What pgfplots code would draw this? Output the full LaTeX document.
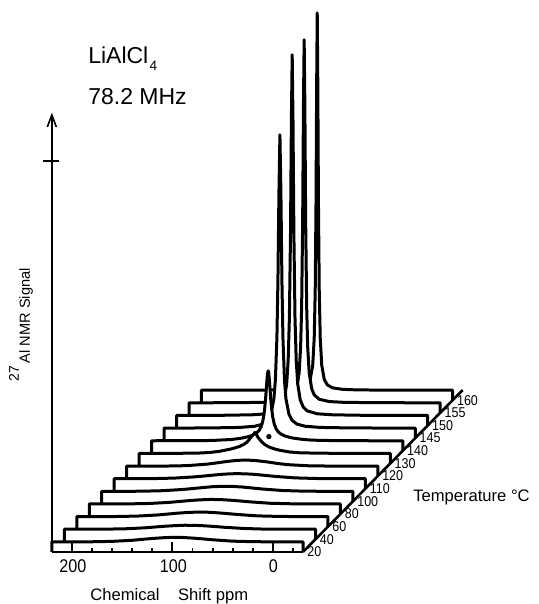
\documentclass[border=0pt]{standalone}
\usepackage{fontspec}
\setmainfont{Liberation Sans}
\newfontfamily\narrowfont{Liberation Sans}[FakeStretch=0.88]
\usepackage{pgfplots}
\pgfplotsset{compat=1.18}
\usepackage{pgfplotstable}

% one table per temperature: p = chemical shift (ppm), s = signal above the trace baseline
% 20 C
\pgfplotstableread{
p s
220 -10
220 0
200 0
180 0.1
160 0.5
140 1.6
130 2.5
120 3.4
110 4.1
100 4.5
90 4.4
80 3.8
70 3.0
60 2.1
40 0.7
20 0.2
0 0
-30 0
-30 -10
}\Ta
% 40 C
\pgfplotstableread{
p s
220 -12
220 0
200 0
180 0.1
160 0.4
140 1.4
130 2.2
120 3.0
110 3.6
100 4.0
90 3.9
80 3.4
70 2.7
60 1.9
40 0.7
20 0.1
0 0
-30 0
-30 -10
}\Tb
% 60 C
\pgfplotstableread{
p s
220 -12
220 0
200 0
180 0.1
160 0.5
140 1.6
130 2.5
120 3.4
110 4.1
100 4.5
90 4.4
80 3.8
70 3.0
60 2.1
40 0.7
20 0.2
0 0
-30 0
-30 -10
}\Tc
% 80 C
\pgfplotstableread{
p s
220 -12
220 0
200 0
180 0.1
160 0.5
140 1.6
130 2.5
120 3.4
110 4.1
100 4.5
90 4.4
80 3.8
70 3.0
60 2.1
40 0.7
20 0.2
0 0
-30 0
-30 -10
}\Td
% 100 C
\pgfplotstableread{
p s
220 -12
220 0
200 0
180 0.1
160 0.6
140 1.8
130 2.7
120 3.7
110 4.6
100 5.0
90 4.9
80 4.3
70 3.3
60 2.3
40 0.8
20 0.2
0 0
-30 0
-30 -10
}\Te
% 110 C
\pgfplotstableread{
p s
220 -12
220 0
200 0
180 0.1
160 0.6
140 1.8
130 2.7
120 3.7
110 4.6
100 5.0
90 4.9
80 4.3
70 3.3
60 2.3
40 0.8
20 0.2
0 0
-30 0
-30 -10
}\Tf
% 120 C
\pgfplotstableread{
p s
220 -12
220 0
200 0
180 0
160 0.4
140 1.9
130 3.2
120 4.6
110 5.7
100 6.0
90 5.3
80 4.1
70 2.6
60 1.4
40 0.3
20 0
0 0
-30 0
-30 -10
}\Tg
% 130 C
\pgfplotstableread{
p s
220 -12
220 0
200 0.1
180 0.1
160 0.4
150 0.9
140 2.1
130 4.1
125 5.4
120 7.0
116 8.9
113 11.0
111 13.2
109 15.8
107.5 17.6
106 19.0
104.8 21.0
103.5 19.5
102 16.5
100 14.0
98 11.6
96 9.6
93 7.6
90 6.1
85 4.4
80 3.1
70 1.4
60 0.6
40 0.2
20 0.1
0 0
-30 0
-30 -10
}\Th
% 140 C
\pgfplotstableread{
p s
220 -12
220 0
200 0.1
180 0.1
160 0.3
140 1.3
130 2.7
125 3.8
120 5.3
116 7.3
113 10.3
111 14.1
109.5 19.0
108.5 24.2
107.5 31.9
106.5 42.9
105.8 52.5
105.2 60.9
104.6 67.5
104 70
103.4 67.5
102.8 60.9
102.2 52.5
101.5 42.9
100.5 31.9
99.5 24.2
98 17.0
96 11.8
94 8.9
91 6.5
87 4.7
80 2.8
70 1.4
60 0.6
40 0.2
20 0.1
0 0
-30 0
-30 -10
}\Ti
% 145 C
\pgfplotstableread{
p s
220 -12
220 0
174.7 0.2
144.7 0.7
129.7 1.9
121.7 4.0
116.7 7.9
113.7 13.8
110.7 29.3
109.2 48.4
107.7 90.3
106.7 146.7
105.7 234.7
104.7 293.4
103.7 234.7
102.7 146.7
101.7 90.3
100.2 48.4
98.7 29.3
95.7 13.8
92.7 7.9
87.7 4.0
79.7 1.9
64.7 0.7
34.7 0.2
-30 0
-30 -10
}\Tj
% 150 C
\pgfplotstableread{
p s
220 -12
220 0
174.9 0.2
144.9 0.7
129.9 1.7
119.9 4.6
115.9 8.4
112.9 15.6
110.4 31.5
108.9 55.2
107.7 97.2
106.6 180.4
105.7 295.4
104.9 360.8
104.1 295.4
103.2 180.4
102.1 97.2
100.9 55.2
99.4 31.5
96.9 15.6
93.9 8.4
89.9 4.6
79.9 1.7
64.9 0.7
34.9 0.2
-30 0
-30 -10
}\Tk
% 155 C
\pgfplotstableread{
p s
220 -12
220 0
175.4 0.2
145.4 0.5
130.4 1.3
120.4 3.6
115.4 8.0
112.9 14.0
110.4 30.0
108.9 56.4
107.9 96.1
106.9 181.6
106.1 298.2
105.4 363.2
104.7 298.2
103.9 181.6
102.9 96.1
101.9 56.4
100.4 30.0
97.9 14.0
95.4 8.0
90.4 3.6
80.4 1.3
65.4 0.5
35.4 0.2
-30 0
-30 -10
}\Tl
% 160 C
\pgfplotstableread{
p s
220 -12
220 0
174.8 0.1
144.8 0.3
129.8 0.9
119.8 2.4
114.8 5.4
111.8 10.8
109.3 24.9
107.8 52.1
106.8 100
106 188.8
105.4 302
104.8 377.5
104.2 302
103.6 188.8
102.8 100
101.8 52.1
100.3 24.9
97.8 10.8
94.8 5.4
89.8 2.4
79.8 0.9
64.8 0.3
34.8 0.1
-30 0
-30 -10
}\Tm

\pgfplotsset{spec/.style={black, line width=1.5pt, line join=round, mark=none}}

% trace #2 drawn as the #1-th step of the stack (white fill hides what lies behind)
\newcommand{\trace}[2]{%
  \addplot[draw=none, fill=white] table[x expr=\thisrow{p}-12.41*#1, y expr=\thisrow{s}+12.64*#1] {#2} -- cycle;
  \addplot[spec] table[x expr=\thisrow{p}-12.41*#1, y expr=\thisrow{s}+12.64*#1] {#2};
}

\begin{document}
\begin{tikzpicture}
\begin{axis}[
  scale only axis, width=269.5pt, height=302pt,
  x dir=reverse, xmin=-264.7, xmax=271.6, ymin=-62, ymax=542,
  hide axis, clip=false,
]
\path (rel axis cs:0,0) rectangle (rel axis cs:1,1);

\trace{12}{\Tm}
\trace{11}{\Tl}
\trace{10}{\Tk}
\trace{9}{\Tj}
\trace{8}{\Ti}
\trace{7}{\Th}
\trace{6}{\Tg}
\trace{5}{\Tf}
\trace{4}{\Te}
\trace{3}{\Td}
\trace{2}{\Tc}
\trace{1}{\Tb}
\trace{0}{\Ta}

% chemical shift scale
\addplot[black, line width=1.3pt] coordinates {(220,-10) (-30,-10)};
\addplot[black, line width=1pt, unbounded coords=jump] coordinates {
  (200,-10) (200,0) (0,nan) (100,-10) (100,0) (0,nan) (0,-10) (0,0)};
\addplot[black, line width=0.9pt, unbounded coords=jump] coordinates {
  (180,-10) (180,-5.7) (0,nan) (160,-10) (160,-5.7) (0,nan)
  (140,-10) (140,-5.7) (0,nan) (120,-10) (120,-5.7) (0,nan)
  (80,-10) (80,-5.7) (0,nan) (60,-10) (60,-5.7) (0,nan)
  (40,-10) (40,-5.7) (0,nan) (20,-10) (20,-5.7) (0,nan)
  (-20,-10) (-20,-5.7)};

% signal axis
\addplot[black, line width=0.8pt] coordinates {(220,-10) (220,427)};
\addplot[black, line width=0.8pt] coordinates {(224.5,415) (220,427) (215.5,415)};
\addplot[black, line width=0.8pt] coordinates {(228.9,381) (213.1,381)};

% temperature axis
\addplot[black, line width=1.3pt] coordinates {(-30,-10) (-188.8,151.8)};
\addplot[only marks, mark=none, nodes near coords, point meta=explicit symbolic,
  nodes near coords style={anchor=west, inner sep=0pt, xshift=2pt,
    font=\narrowfont\fontsize{7.1}{8}\selectfont}]
  table[x expr=-30-12.41*\thisrow{k}, y expr=-10+12.64*\thisrow{k}, meta=label] {
k label
0 20
1 40
2 60
3 80
4 100
5 110
6 120
7 130
8 140
9 145
10 150
11 155
12 160
};

\addplot[only marks, mark=*, mark size=1.1pt, black] coordinates {(4,105.3)};

\node[anchor=base west, inner sep=0pt, font=\fontsize{11.5}{13}\selectfont]
  at (axis cs:184.1,478.7) {LiAlCl\kern0.6pt\raisebox{-3.5pt}{\fontsize{6.8}{7}\selectfont 4}};
\node[anchor=base west, inner sep=0pt, font=\fontsize{11.5}{13}\selectfont]
  at (axis cs:184.1,437) {78.2 MHz};

\node[anchor=base, inner sep=0pt, font=\narrowfont\fontsize{9.2}{10}\selectfont] at (axis cs:199,-31) {200};
\node[anchor=base, inner sep=0pt, font=\narrowfont\fontsize{9.2}{10}\selectfont] at (axis cs:99,-31) {100};
\node[anchor=base, inner sep=0pt, font=\narrowfont\fontsize{9.2}{10}\selectfont] at (axis cs:-0.5,-31) {0};

\node[anchor=base west, inner sep=0pt, font=\fontsize{8.3}{9}\selectfont]
  at (axis cs:182.1,-58.7) {Chemical\hspace{7pt} Shift ppm};
\node[anchor=base west, inner sep=0pt, font=\fontsize{8.3}{9}\selectfont]
  at (axis cs:-139.3,40.3) {Temperature °C};
\node[rotate=90, anchor=base, inner sep=0pt, font=\fontsize{7.3}{9}\selectfont]
  at (axis cs:241.8,217) {\raisebox{5.5pt}{\fontsize{7}{8}\selectfont 27}\kern1.5pt Al NMR Signal};
\end{axis}
\end{tikzpicture}
\end{document}
